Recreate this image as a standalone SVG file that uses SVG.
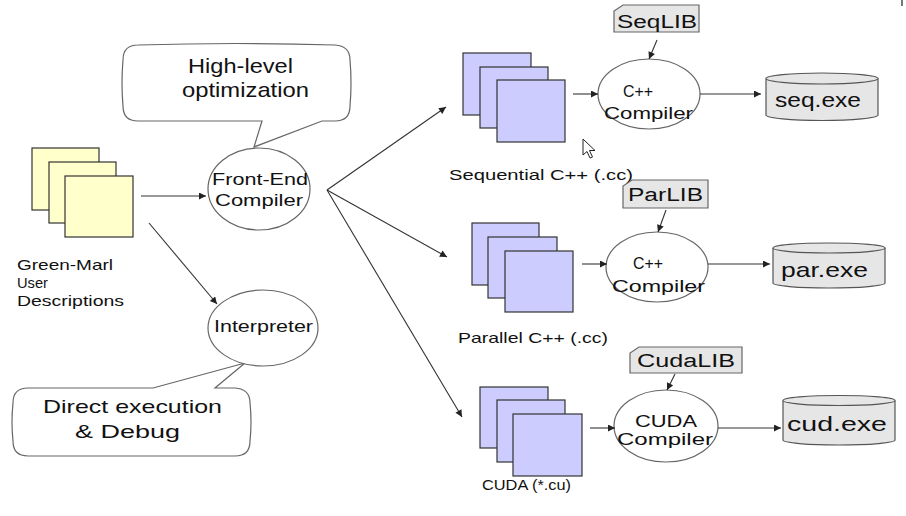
<svg xmlns="http://www.w3.org/2000/svg" width="906" height="516" viewBox="0 0 906 516">
<defs>
<style>
text{font-family:"Liberation Sans",Arial,sans-serif;fill:#111;}
.doc-y{fill:#ffffcc;stroke:#333;stroke-width:1.2;}
.doc-b{fill:#ccccff;stroke:#333;stroke-width:1.2;}
.ell{fill:#fff;stroke:#666;stroke-width:1.2;}
.call{fill:#fff;stroke:#666;stroke-width:1.2;}
.lib{fill:#e6e6e6;stroke:#666;stroke-width:1.2;}
.cyl{fill:#e6e6e6;stroke:#555;stroke-width:1.2;}
.conn{fill:none;stroke:#333;stroke-width:1.1;marker-end:url(#ah);}
</style>
<marker id="ah" viewBox="0 0 10 10" refX="10" refY="5" markerWidth="8" markerHeight="7" markerUnits="userSpaceOnUse" orient="auto">
<path d="M0,0 L10,5 L0,10 z" fill="#222"/>
</marker>
</defs>
<rect width="906" height="516" fill="#fff"/>
<line x1="902" y1="0" x2="902" y2="6" stroke="#777" stroke-width="2"/>

<g id="callout-highlevel">
<path class="call" d="M138,45 Q236,42 335,45 Q350,46 350,60 Q352,83 350,106 Q350,121 335,121 L322,121 L254,147 L262,121 L138,121 Q123,121 123,106 Q121,83 123,60 Q123,45 138,45 Z"/>
<text x="188" y="73" font-size="21" textLength="105" lengthAdjust="spacingAndGlyphs">High-level</text>
<text x="182" y="97" font-size="21" textLength="127" lengthAdjust="spacingAndGlyphs">optimization</text>
</g>

<g id="callout-direct">
<path class="call" d="M28,388 L153,388 L245,363 L215,388 L235,388 Q250,389 250,403 Q252,422 250,441 Q250,456 235,456 L28,456 Q13,456 13,441 Q11,422 13,403 Q13,388 28,388 Z"/>
<text x="43" y="413" font-size="19" textLength="179" lengthAdjust="spacingAndGlyphs">Direct execution</text>
<text x="75" y="438" font-size="19" textLength="105" lengthAdjust="spacingAndGlyphs">&amp; Debug</text>
</g>

<g id="greenmarl">
<rect class="doc-y" x="32" y="148" width="67" height="62"/>
<rect class="doc-y" x="49" y="162" width="67" height="61"/>
<rect class="doc-y" x="65" y="176" width="68" height="61"/>
<text x="17" y="270" font-size="15" textLength="96" lengthAdjust="spacingAndGlyphs">Green-Marl</text>
<text x="17" y="288" font-size="15" textLength="31" lengthAdjust="spacingAndGlyphs">User</text>
<text x="17" y="306" font-size="15" textLength="107" lengthAdjust="spacingAndGlyphs">Descriptions</text>
</g>

<g id="frontend">
<ellipse class="ell" cx="259" cy="189" rx="51" ry="41"/>
<text x="212" y="185" font-size="17" textLength="96" lengthAdjust="spacingAndGlyphs">Front-End</text>
<text x="215" y="206" font-size="17" textLength="88" lengthAdjust="spacingAndGlyphs">Compiler</text>
</g>

<g id="interpreter">
<ellipse class="ell" cx="263" cy="328" rx="55" ry="38"/>
<text x="214" y="332" font-size="16" textLength="99" lengthAdjust="spacingAndGlyphs">Interpreter</text>
</g>

<g id="seq-docs">
<rect class="doc-b" x="463" y="53" width="68" height="62"/>
<rect class="doc-b" x="480" y="67" width="68" height="61"/>
<rect class="doc-b" x="497" y="80" width="68" height="62"/>
<text x="449" y="180" font-size="14.5" textLength="184" lengthAdjust="spacingAndGlyphs">Sequential C++ (.cc)</text>
</g>

<g id="seqlib">
<path class="lib" d="M623,5 L699,5 L699,32 L614,32 L614,11 Z"/>
<text x="617" y="28" font-size="18" textLength="80" lengthAdjust="spacingAndGlyphs">SeqLIB</text>
</g>

<g id="seq-compiler">
<ellipse class="ell" cx="649" cy="94" rx="51" ry="35"/>
<text x="623" y="97" font-size="16" textLength="30" lengthAdjust="spacingAndGlyphs">C++</text>
<text x="604" y="119" font-size="16" textLength="89" lengthAdjust="spacingAndGlyphs">Compiler</text>
</g>

<g id="seq-exe">
<path class="cyl" d="M766,78.5 L766,115 A56,5.5 0 0 0 878,115 L878,78.5"/>
<ellipse class="cyl" cx="822" cy="78.5" rx="56" ry="5.5"/>
<text x="775" y="107" font-size="21" textLength="86" lengthAdjust="spacingAndGlyphs">seq.exe</text>
</g>

<g id="par-docs">
<rect class="doc-b" x="472" y="223" width="67" height="62"/>
<rect class="doc-b" x="488" y="237" width="69" height="61"/>
<rect class="doc-b" x="505" y="251" width="68" height="61"/>
<text x="458" y="343" font-size="14.5" textLength="150" lengthAdjust="spacingAndGlyphs">Parallel C++ (.cc)</text>
</g>

<g id="parlib">
<path class="lib" d="M632,180 L708,180 L708,208 L623,208 L623,186 Z"/>
<text x="628" y="201" font-size="18" textLength="75" lengthAdjust="spacingAndGlyphs">ParLIB</text>
</g>

<g id="par-compiler">
<ellipse class="ell" cx="657" cy="267" rx="51" ry="35"/>
<text x="633" y="269" font-size="16" textLength="30" lengthAdjust="spacingAndGlyphs">C++</text>
<text x="612" y="292" font-size="16" textLength="93" lengthAdjust="spacingAndGlyphs">Compiler</text>
</g>

<g id="par-exe">
<path class="cyl" d="M773,248 L773,283 A56,5 0 0 0 885,283 L885,248"/>
<ellipse class="cyl" cx="829" cy="248" rx="56" ry="5"/>
<text x="781" y="277" font-size="21" textLength="87" lengthAdjust="spacingAndGlyphs">par.exe</text>
</g>

<g id="cuda-docs">
<rect class="doc-b" x="480" y="387" width="68" height="61"/>
<rect class="doc-b" x="497" y="400" width="68" height="62"/>
<rect class="doc-b" x="513" y="414" width="69" height="62"/>
<text x="482" y="490" font-size="14.5" textLength="89" lengthAdjust="spacingAndGlyphs">CUDA (*.cu)</text>
</g>

<g id="cudalib">
<path class="lib" d="M639,347 L742,347 L742,373 L630,373 L630,353 Z"/>
<text x="637" y="367" font-size="18" textLength="98" lengthAdjust="spacingAndGlyphs">CudaLIB</text>
</g>

<g id="cuda-compiler">
<ellipse class="ell" cx="666" cy="426" rx="52" ry="36"/>
<text x="635" y="427" font-size="16" textLength="62" lengthAdjust="spacingAndGlyphs">CUDA</text>
<text x="617" y="445" font-size="16" textLength="96" lengthAdjust="spacingAndGlyphs">Compiler</text>
</g>

<g id="cud-exe">
<path class="cyl" d="M783,400.5 L783,440 A56,5 0 0 0 895,440 L895,400.5"/>
<ellipse class="cyl" cx="839" cy="400.5" rx="56" ry="5"/>
<text x="787" y="431" font-size="21" textLength="100" lengthAdjust="spacingAndGlyphs">cud.exe</text>
</g>

<g id="cursor">
<path d="M583,139 L583,155 L587,151.5 L590,158 L592.5,157 L589.5,150.5 L595,150.5 Z" fill="#fff" stroke="#222" stroke-width="1"/>
</g>

<g id="connectors">
<line class="conn" x1="141" y1="196" x2="206" y2="196"/>
<line class="conn" x1="149" y1="223" x2="217" y2="304"/>
<line class="conn" x1="327" y1="190" x2="446" y2="107"/>
<line class="conn" x1="327" y1="190" x2="447" y2="257"/>
<line class="conn" x1="327" y1="190" x2="462" y2="417"/>
<line class="conn" x1="573" y1="94" x2="598" y2="94"/>
<line class="conn" x1="700" y1="94" x2="761" y2="94"/>
<line class="conn" x1="657" y1="40" x2="649" y2="59"/>
<line class="conn" x1="582" y1="264" x2="607" y2="264"/>
<line class="conn" x1="708" y1="264" x2="770" y2="264"/>
<line class="conn" x1="666" y1="210" x2="658" y2="232"/>
<line class="conn" x1="590" y1="428" x2="615" y2="428"/>
<line class="conn" x1="718" y1="428" x2="781" y2="428"/>
<line class="conn" x1="675" y1="374" x2="667" y2="390"/>
</g>
</svg>
